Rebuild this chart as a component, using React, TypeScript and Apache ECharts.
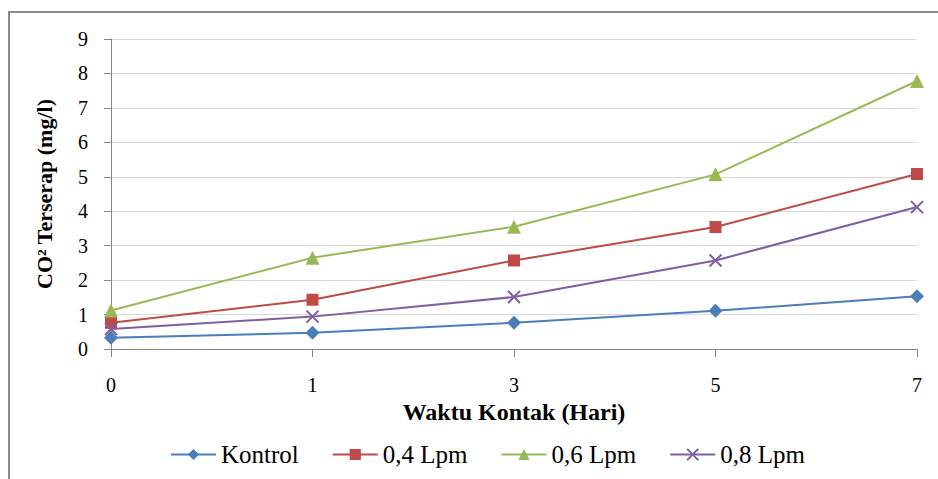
import React, { useEffect, useRef } from "react";
import * as echarts from "echarts";

const categories = ["0", "1", "3", "5", "7"];
const kontrol = [0.33, 0.47, 0.76, 1.11, 1.53];
const lpm04 = [0.76, 1.43, 2.57, 3.54, 5.08];
const lpm06 = [1.12, 2.65, 3.55, 5.07, 7.78];
const lpm08 = [0.58, 0.94, 1.51, 2.57, 4.12];
const seriesNames = ["Kontrol", "0,4 Lpm", "0,6 Lpm", "0,8 Lpm"];

const FONT = "Liberation Serif";

export default function App() {
  const ref = useRef<HTMLDivElement>(null);
  useEffect(() => {
    if (!ref.current) return;
    const chart = echarts.init(ref.current, null, { renderer: "svg" });
    const mk = (name: string, data: number[], color: string, symbol: string, size: number, extra: any = {}) => ({
      name,
      type: "line",
      data,
      symbol,
      symbolSize: size,
      showSymbol: true,
      lineStyle: { color, width: 2 },
      itemStyle: { color, ...extra },
      emphasis: { disabled: true },
    });
    chart.setOption({
      animation: false,
      textStyle: { fontFamily: FONT },
      graphic: [
        {
          type: "rect",
          shape: { x: 9, y: 12, width: 1000, height: 1000 },
          style: { fill: "none", stroke: "#8a8a8a", lineWidth: 2 },
          silent: true,
        },
      ],
      grid: { left: 111, right: 21, top: 39, bottom: 130, containLabel: false },
      legend: {
        left: 165,
        top: 437,
        itemWidth: 45,
        itemHeight: 14,
        itemGap: 33,
        textStyle: { fontSize: 25, color: "#000", fontFamily: FONT },
        data: seriesNames,
      },
      xAxis: {
        type: "category",
        data: categories,
        boundaryGap: false,
        name: "Waktu Kontak (Hari)",
        nameLocation: "middle",
        nameGap: 47,
        nameTextStyle: { fontSize: 24, fontWeight: "bold", color: "#000", fontFamily: FONT },
        axisLine: { show: true, lineStyle: { color: "#868686", width: 1 } },
        axisTick: { show: true, length: 8, lineStyle: { color: "#868686" } },
        axisLabel: { fontSize: 20, color: "#000", margin: 26, fontFamily: FONT },
        splitLine: { show: false },
      },
      yAxis: {
        type: "value",
        min: 0,
        max: 9,
        interval: 1,
        name: "CO² Terserap (mg/l)",
        nameLocation: "middle",
        nameGap: 56,
        nameRotate: 90,
        nameTextStyle: { fontSize: 22, fontWeight: "bold", color: "#000", fontFamily: FONT },
        axisLine: { show: true, lineStyle: { color: "#868686", width: 1 } },
        axisTick: { show: true, length: 7, lineStyle: { color: "#868686" } },
        axisLabel: { fontSize: 20, color: "#000", margin: 23, fontFamily: FONT },
        splitLine: { show: true, lineStyle: { color: "#d9d9d9", width: 1 } },
      },
      series: [
        mk(seriesNames[0], kontrol, "#4a7ebb", "diamond", 14),
        mk(seriesNames[1], lpm04, "#be4b48", "rect", 12),
        mk(seriesNames[2], lpm06, "#98b954", "triangle", 14),
        mk(seriesNames[3], lpm08, "#7d60a0", "path://M0,0L10,10M10,0L0,10", 12, {
          borderColor: "#7d60a0",
          borderWidth: 2,
        }),
      ],
    });
    return () => chart.dispose();
  }, []);
  return (
    <div
      ref={ref}
      style={{ position: "fixed", left: 0, top: 0, width: 938, height: 479, background: "#fff" }}
    />
  );
}
